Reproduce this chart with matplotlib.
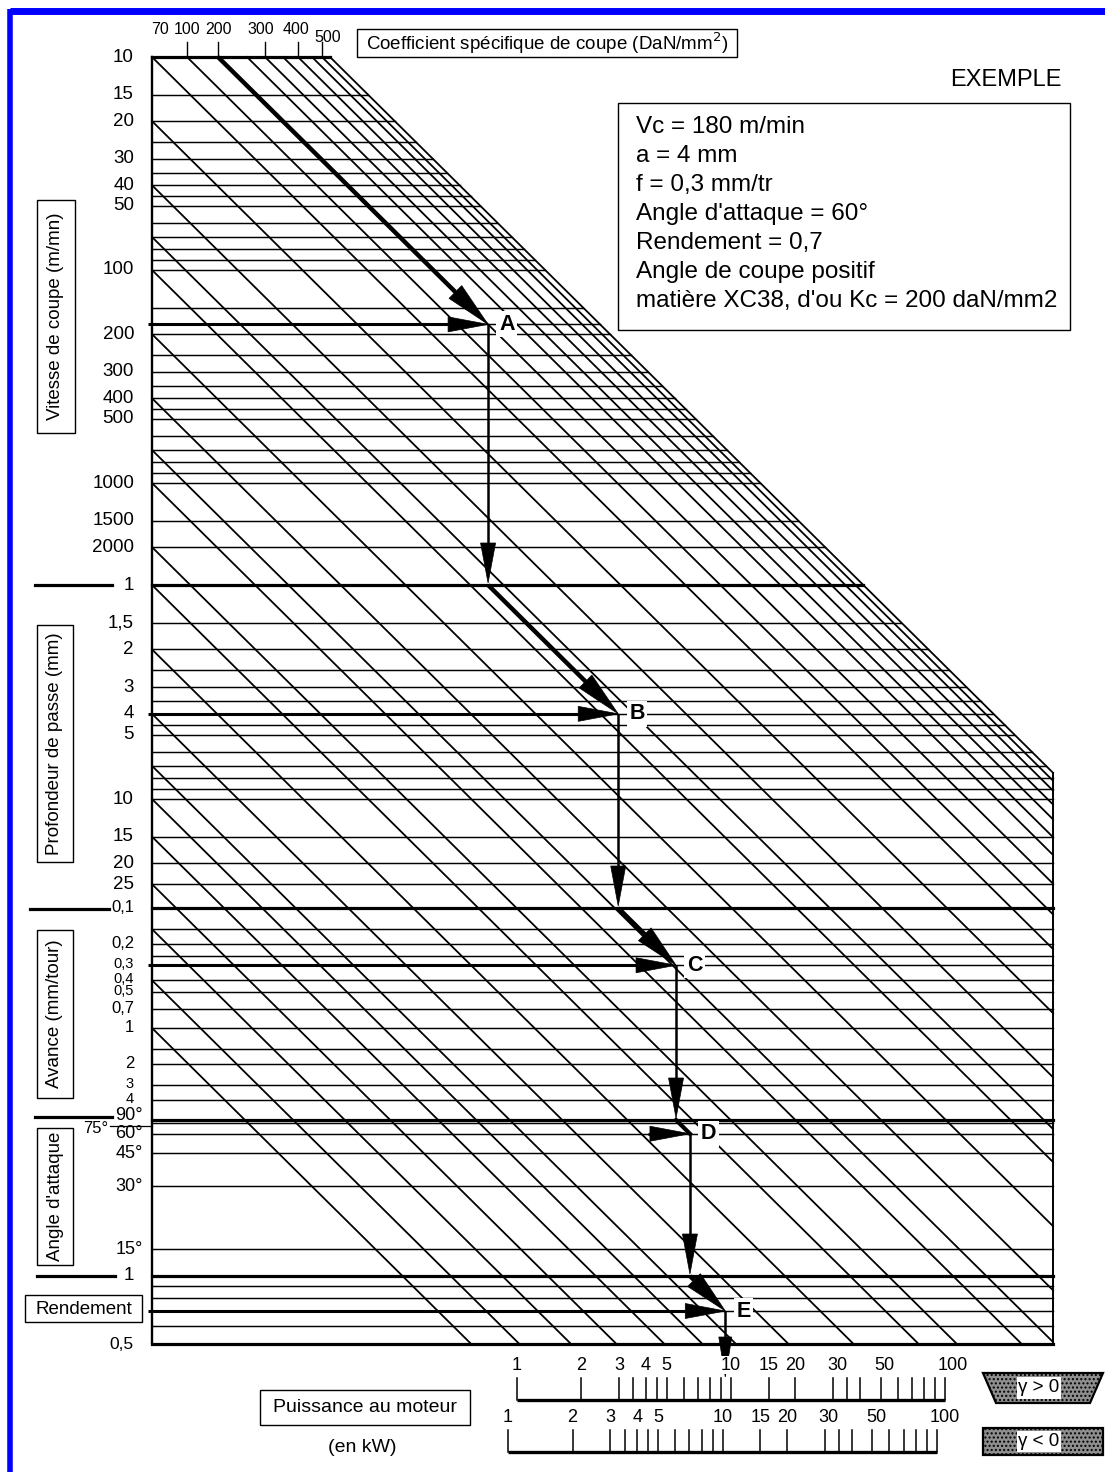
"""
Abaque : puissance de coupe en tournage (nomogramme)
Reconstruction matplotlib de l'abaque avec l'exemple A -> E.
"""

import numpy as np
import matplotlib
matplotlib.use("Agg")
import matplotlib.pyplot as plt
from matplotlib.patches import Polygon, Rectangle

plt.rcParams["font.family"] = ["Liberation Sans", "DejaVu Sans"]

# ──────────────────────────────────────────────
# 1. Données de l'abaque
# ──────────────────────────────────────────────

# Coefficient spécifique de coupe Kc (obliques partant du bord haut)
kc_diag = [70, 100, 200, 250, 300, 350, 400, 450, 500, 550]
kc_ticks = [100, 200, 300, 400, 500]
kc_labels = [70, 100, 200, 300, 400, 500]

# Vitesse de coupe (m/mn)
vc_lines = [10, 15, 20, 25, 30, 35, 40, 45, 50, 60, 70, 80, 90, 100, 150, 180,
            200, 250, 300, 350, 400, 450, 500, 600, 700, 800, 900, 1000, 1500, 2000]
vc_labels = [10, 15, 20, 30, 40, 50, 100, 200, 300, 400, 500, 1000, 1500, 2000]
vc_diag = [20, 40, 70, 100, 200, 400, 700, 1000, 2000]

# Profondeur de passe (mm)
depth_lines = [1, 1.5, 2, 2.5, 3, 3.5, 4, 4.5, 5, 6, 7, 8, 9, 10, 15, 20, 25]
depth_labels = [1.5, 2, 3, 4, 5, 10, 15, 20, 25]
depth_diag = [1, 2, 4, 7, 10, 15, 25]

# Avance (mm/tour)
feed_lines = [0.1, 0.15, 0.2, 0.25, 0.3, 0.4, 0.5, 0.7, 1, 1.5, 2, 3, 4]
feed_labels = [0.2, 0.3, 0.4, 0.5, 0.7, 1, 2, 3, 4]
feed_tight = [0.3, 0.4, 0.5, 3, 4]       # étiquettes serrées
feed_diag = [0.15, 0.4, 1]

# Angle d'attaque (degrés)
angle_lines = [90, 75, 60, 45, 30, 15]
angle_labels = [60, 45, 30, 15]

# Rendement
rend_lines = [1, 0.9, 0.8, 0.7, 0.6, 0.5]

# Puissance au moteur (kW)
power_ticks = [1, 2, 3, 3.5, 4, 4.5, 5, 6, 7, 8, 9, 10, 15, 20, 30, 35, 40,
               50, 60, 70, 80, 90, 100]
power_labels = [1, 2, 3, 4, 5, 10, 15, 20, 30, 50, 100]

# Exemple
ex_vc, ex_kc, ex_a, ex_f, ex_angle, ex_rend = 180, 200, 4, 0.3, 60, 0.7
ex_text = ["Vc = 180 m/min", "a = 4 mm", "f = 0,3 mm/tr",
           "Angle d'attaque = 60°", "Rendement = 0,7",
           "Angle de coupe positif", "matière XC38, d'ou Kc = 200 daN/mm2"]


def fr(v):
    return f"{v:g}".replace(".", ",")


# ──────────────────────────────────────────────
# 2. Échelles (repère en pixels, y vers le bas)
# ──────────────────────────────────────────────
W, H = 1105, 1472
X_LEFT, X_RIGHT = 152, 1053
Y_TOP, Y_BOT = 57, 1343
SLOPE = 0.99
KC_SCALE_V = [70, 100, 200, 250, 300, 350, 400, 450, 500, 550]
KC_SCALE_X = [152, 187, 218, 247, 265, 283, 298, 312, 322, 330]


def x_kc(v):
    return float(np.interp(v, KC_SCALE_V, KC_SCALE_X))


def y_vc(v):
    return 57 + 213 * np.log10(v / 10)


def y_depth(a):
    return 585 + 214 * np.log10(a)


def y_feed(f):
    return 908 + 120 * np.log10(f / 0.1)


def y_angle(k):
    return 1120 - 220 * np.log10(np.sin(np.radians(k)))


def y_rend(r):
    return 1276 - 226 * np.log10(r)


def x_edge(y):
    return min(X_RIGHT, x_kc(550) + (y - Y_TOP) / SLOPE)


def x_pow_up(p):
    return 517 + 214 * np.log10(p)


def x_pow_low(p):
    return 508 + 214.5 * np.log10(p)


fig = plt.figure(figsize=(W / 100, H / 100), dpi=100)
ax = fig.add_axes([0, 0, 1, 1])
ax.set_xlim(0, W)
ax.set_ylim(H, 0)
ax.axis("off")

# cadre bleu
ax.plot([10, W], [11, 11], color="#0000ff", lw=5, solid_capstyle="butt")
ax.plot([10, 10], [9, H], color="#0000ff", lw=4, solid_capstyle="butt")

# ── lignes horizontales ──
THICK = {("d", 1), ("f", 0.1), ("g", 90), ("r", 1), ("r", 0.5), ("v", 10)}
rows = ([("v", v, y_vc(v)) for v in vc_lines]
        + [("d", v, y_depth(v)) for v in depth_lines]
        + [("f", v, y_feed(v)) for v in feed_lines]
        + [("g", v, y_angle(v)) for v in angle_lines]
        + [("r", v, y_rend(v)) for v in rend_lines])
for sec, v, y in rows:
    lw = 2.3 if (sec, v) in THICK else 1.05
    ax.plot([X_LEFT, x_edge(y)], [y, y], color="k", lw=lw)

# ── obliques ──
starts = ([(x_kc(v), Y_TOP) for v in kc_diag]
          + [(X_LEFT, y_vc(v)) for v in vc_diag]
          + [(X_LEFT, y_depth(v)) for v in depth_diag]
          + [(X_LEFT, y_feed(v)) for v in feed_diag])
for x0, y0 in starts:
    y1 = min(Y_BOT, y0 + (X_RIGHT - x0) * SLOPE)
    x1 = x0 + (y1 - y0) / SLOPE
    ax.plot([x0, x1], [y0, y1], color="k", lw=1.3)

# bords
ax.plot([X_LEFT, X_LEFT], [Y_TOP, Y_BOT], color="k", lw=1.7)
ax.plot([X_RIGHT, X_RIGHT], [y_vc(10) + (X_RIGHT - x_kc(550)) * SLOPE, Y_BOT],
        color="k", lw=1.4)

# ── graduations Kc (haut) ──
for v in kc_ticks:
    ax.plot([x_kc(v), x_kc(v)], [Y_TOP - 15, Y_TOP], color="k", lw=1.0)
for v in kc_labels:
    dy = 8 if v == 500 else 0
    dx = {70: 8, 300: -4, 400: -2, 500: 6}.get(v, 0)
    ax.text(x_kc(v) + dx, 29 + dy, str(v), fontsize=11.5, ha="center", va="center")

# ── étiquettes à gauche ──
for v in vc_labels:
    ax.text(134, y_vc(v), str(v), fontsize=13.5, ha="right", va="center")
ax.text(134, y_depth(1), "1", fontsize=13.5, ha="right", va="center")
for v in depth_labels:
    ax.text(134, y_depth(v), fr(v), fontsize=13.5, ha="right", va="center")
ax.text(134, y_feed(0.1), "0,1", fontsize=12, ha="right", va="center")
for v in feed_labels:
    fs = 10.5 if v in feed_tight else 12
    ax.text(134, y_feed(v) - 1, fr(v), fontsize=fs, ha="right", va="center")
ax.text(143, y_angle(90) - 4, "90°", fontsize=13, ha="right", va="center")
ax.text(108, y_angle(75) + 5, "75°", fontsize=12, ha="right", va="center")
ax.plot([110, X_LEFT], [y_angle(75) + 3] * 2, color="k", lw=0.9)
for v in angle_labels:
    ax.text(143, y_angle(v), f"{v}°", fontsize=13, ha="right", va="center")
ax.text(134, y_rend(1) - 1, "1", fontsize=13.5, ha="right", va="center")
ax.text(134, y_rend(0.5), "0,5", fontsize=12.5, ha="right", va="center")

# traits séparateurs de section
for x0, x1, y in [(35, 112, y_depth(1)), (30, 109, y_feed(0.1) + 1),
                  (35, 112, y_angle(90) - 3), (37, 115, y_rend(1))]:
    ax.plot([x0, x1], [y, y], color="k", lw=2.3)

# boîtes des titres d'axes
for (x0, y0, x1, y1), txt in [((37, 200, 75, 433), "Vitesse de coupe (m/mn)"),
                              ((37, 625, 73, 862), "Profondeur de passe (mm)"),
                              ((37, 930, 73, 1098), "Avance (mm/tour)"),
                              ((37, 1128, 73, 1265), "Angle d'attaque")]:
    ax.add_patch(Rectangle((x0, y0), x1 - x0, y1 - y0, fill=False, ec="k", lw=1.0))
    ax.text((x0 + x1) / 2, (y0 + y1) / 2, txt, rotation=90, fontsize=13.5,
            ha="center", va="center")
ax.add_patch(Rectangle((25, 1295), 117, 27, fill=False, ec="k", lw=1.0))
ax.text(84, 1309, "Rendement", fontsize=13.5, ha="center", va="center")

ax.add_patch(Rectangle((357, 29), 380, 28, fill=False, ec="k", lw=1.0))
ax.text(547, 43, "Coefficient spécifique de coupe (DaN/mm$^2$)", fontsize=13.5,
        ha="center", va="center")

# ── exemple ──
ax.text(1062, 80, "EXEMPLE", fontsize=17, ha="right", va="center")
ax.add_patch(Rectangle((618, 103), 452, 227, fill=False, ec="k", lw=1.0))
for i, line in enumerate(ex_text):
    ax.text(636, 127 + 29 * i, line, fontsize=17.5, ha="left", va="center")


# ── tracé de l'exemple ──
def fleche(p0, p1, lw=2.0, L=40, hw=7.5):
    (x0, y0), (x1, y1) = p0, p1
    d = np.hypot(x1 - x0, y1 - y0)
    ux, uy = (x1 - x0) / d, (y1 - y0) / d
    L = min(L, d)
    bx, by = x1 - L * ux, y1 - L * uy
    ax.plot([x0, bx], [y0, by], color="k", lw=lw, solid_capstyle="butt")
    ax.add_patch(Polygon([[x1, y1], [bx - hw * uy, by + hw * ux],
                          [bx + hw * uy, by - hw * ux]],
                         closed=True, fc="k", ec="k", lw=0.5))


yA = y_vc(ex_vc)
xA = x_kc(ex_kc) + (yA - Y_TOP) / SLOPE
yB = y_depth(ex_a)
xB = xA + (yB - y_depth(1)) / SLOPE
yC = y_feed(ex_f)
xC = xB + (yC - y_feed(0.1)) / SLOPE
yD = y_angle(ex_angle)
xD = xC + (yD - y_angle(90)) / SLOPE
yE = y_rend(ex_rend)
xE = xD + (yE - y_rend(1)) / SLOPE

fleche((x_kc(ex_kc), Y_TOP), (xA, yA), lw=3.2, L=46, hw=9)
fleche((148, yA), (xA, yA), lw=2.2)
fleche((xA, yA), (xA, y_depth(1) - 2), lw=1.8)
fleche((xA, y_depth(1)), (xB, yB), lw=3.2, L=46, hw=9)
fleche((148, yB), (xB, yB), lw=2.2)
fleche((xB, yB), (xB, y_feed(0.1) - 2), lw=1.8)
fleche((xB, y_feed(0.1)), (xC, yC), lw=3.2, L=44, hw=9)
fleche((148, yC), (xC, yC), lw=2.2)
fleche((xC, yC), (xC, y_angle(90) - 2), lw=1.8)
ax.plot([xC, xD], [y_angle(90), yD], color="k", lw=3.0)
fleche((xD - 42, yD), (xD, yD), lw=2.2)
fleche((xD, yD), (xD, y_rend(1) - 2), lw=1.8)
fleche((xD, y_rend(1)), (xE, yE), lw=3.2, L=44, hw=9)
fleche((148, yE), (xE, yE), lw=2.2)
fleche((xE, yE), (xE, 1377), lw=1.8, L=40, hw=6.5)

for name, (px, py) in zip("ABCDE", [(xA, yA), (xB, yB), (xC, yC), (xD, yD), (xE, yE)]):
    ax.text(px + 11, py, name, fontsize=15.5, fontweight="bold", ha="left", va="center",
            bbox=dict(boxstyle="square,pad=0.12", fc="white", ec="none"))

# ── échelles de puissance ──
for xf, ybase, ylab in [(x_pow_up, 1400, 1365), (x_pow_low, 1452, 1417)]:
    ax.plot([xf(1), xf(100)], [ybase, ybase], color="k", lw=2.4, solid_capstyle="butt")
    for p in power_ticks:
        ax.plot([xf(p), xf(p)], [ybase - 22, ybase], color="k", lw=1.1)
    for p in power_labels:
        dx = 8 if p == 100 else (4 if p >= 30 else 0)
        ax.text(xf(p) + dx, ylab, str(p), fontsize=13, ha="center", va="center",
                bbox=dict(boxstyle="square,pad=0.05", fc="white", ec="none")
                if p == 10 else None)

ax.add_patch(Rectangle((260, 1390), 210, 35, fill=False, ec="k", lw=1.0))
ax.text(365, 1407, "Puissance au moteur", fontsize=14, ha="center", va="center")
ax.text(362, 1447, "(en kW)", fontsize=14, ha="center", va="center")

# ── symboles angle de coupe ──
ax.add_patch(Polygon([[983, 1373], [1103, 1373], [1090, 1403], [996, 1403]],
                     closed=True, fc="#8f8f8f", ec="k", lw=1.6, hatch="...."))
ax.add_patch(Rectangle((1017, 1377), 44, 22, fc="white", ec="none"))
ax.text(1039, 1388, "γ > 0", fontsize=13.5, ha="center", va="center")
ax.add_patch(Rectangle((983, 1428), 120, 27, fc="#8f8f8f", ec="k", lw=1.6, hatch="...."))
ax.add_patch(Rectangle((1017, 1431), 44, 21, fc="white", ec="none"))
ax.text(1039, 1441, "γ < 0", fontsize=13.5, ha="center", va="center")

fig.savefig("out.png", dpi=100)
